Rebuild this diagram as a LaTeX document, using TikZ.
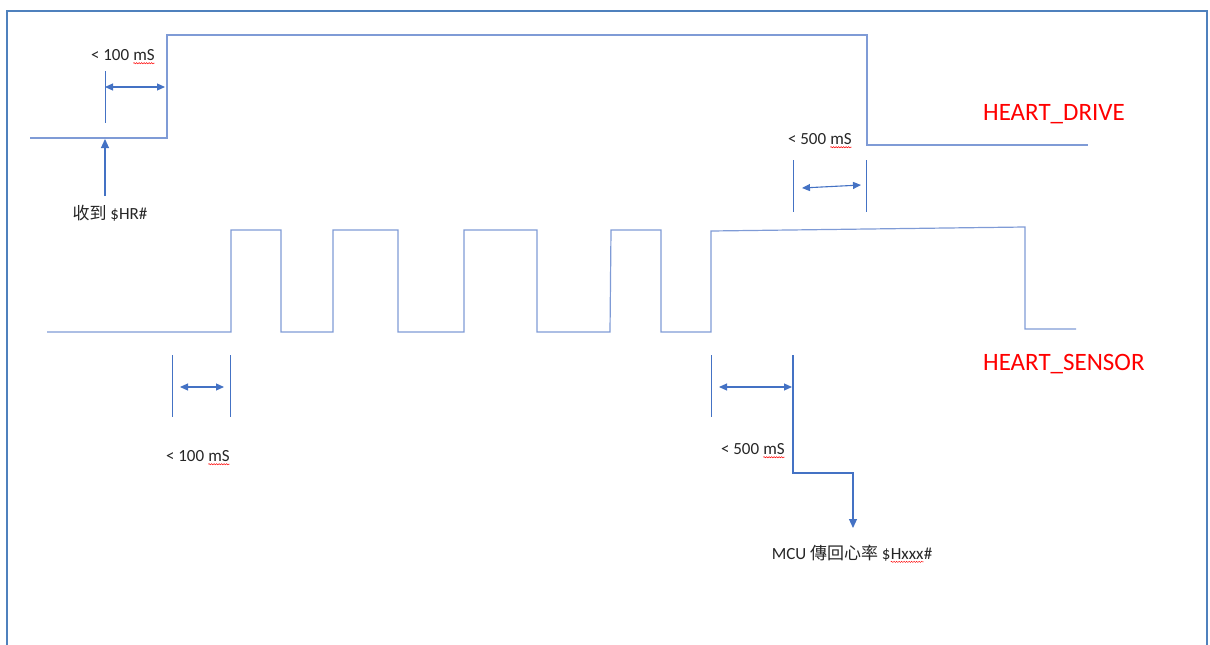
\documentclass[tikz,border=0pt]{standalone}
\usepackage{fontspec}
\setmainfont{Carlito}
\newfontfamily\cjk{Noto Sans CJK TC}
\usetikzlibrary{arrows.meta,decorations.pathmorphing}
\definecolor{framec}{HTML}{4F81BD}
\definecolor{sigc}{HTML}{7F9BD6}
\definecolor{arrc}{HTML}{4472C4}
\newcommand\wavymark[1]{\tikz[baseline=(w.base)]{\node[inner sep=0pt,outer sep=0pt](w){#1};\draw[red,line width=0.5pt,decorate,decoration={snake,amplitude=0.6pt,segment length=2.5pt}]([yshift=-2.2pt]w.base west)--([yshift=-2.2pt]w.base east);}}
\tikzset{
  frameline/.style={framec,line width=2.4pt},
  sigline/.style={sigc,line width=1.2pt},
  tickline/.style={arrc,line width=1pt},
  dimarrow/.style={arrc,line width=1.1pt,{Triangle[length=8pt,width=7pt]}-{Triangle[length=8pt,width=7pt]}},
  onearrow/.style={arrc,line width=1.1pt,-{Triangle[length=9pt,width=8pt]}},
  lbl/.style={inner sep=0pt,text=black!85,font=\fontsize{17}{20}\selectfont},
  redlbl/.style={inner sep=0pt,text=red,font=\fontsize{25}{30}\selectfont}
}
\begin{document}
\begin{tikzpicture}[x=1pt,y=-1pt]
\useasboundingbox (0,0) rectangle (1210,645);
% frame
\draw[frameline] (7,650) -- (7,11) -- (1207,11) -- (1207,650);
% HEART_DRIVE waveform
\draw[sigline] (30,138) -- (167,138) -- (167,35) -- (867,35) -- (867,145) -- (1088,145);
% HEART_SENSOR waveform
\draw[sigline] (47,332) -- (231,332) -- (231,230) -- (281,230) -- (281,332)
  -- (333,332) -- (333,230) -- (398,230) -- (398,332) -- (464,332) -- (464,230)
  -- (537,230) -- (537,332) -- (610,332) -- (611,230) -- (661,230) -- (661,332)
  -- (711,332) -- (711,231) -- (1025,227) -- (1025,329) -- (1076,329);
% labels
\node[redlbl,anchor=west] (drive) at (983,114) {HEART\_DRIVE};
\node[redlbl,anchor=west] (sensor) at (983,364) {HEART\_SENSOR};
\node[lbl] (t100a) at (123,57) {< 100 \wavymark{mS}};
\node[lbl] (t500a) at (820,141) {< 500 \wavymark{mS}};
\node[lbl] (t100b) at (198,458) {< 100 \wavymark{mS}};
\node[lbl] (t500b) at (753,451) {< 500 \wavymark{mS}};
\node[lbl] (recv) at (110,213) {{\cjk 收到} \$HR\#};
\node[lbl] (mcu) at (852,554) {MCU {\cjk 傳回心率} \$\wavymark{Hxxx}\#};
% top-left dimension
\coordinate (tla) at (105,87);
\coordinate (tlb) at (165,87);
\draw[tickline] (105,71) -- (105,123);
\draw[dimarrow] (tla) -- (tlb);
% receive arrow
\coordinate (recvtop) at (105,196);
\coordinate (recvtip) at (105,139);
\draw[onearrow] (recvtop) -- (recvtip);
% top-right dimension
\draw[tickline] (793,160) -- (793,212);
\draw[tickline] (866,160) -- (866,212);
\coordinate (tra) at (802,188);
\coordinate (trb) at (861,185);
\draw[dimarrow] (tra) -- (trb);
% bottom-left dimension
\draw[tickline] (172,355) -- (172,417);
\draw[tickline] (230,355) -- (230,417);
\coordinate (bla) at (180,387);
\coordinate (blb) at (224,387);
\draw[dimarrow] (bla) -- (blb);
% bottom-right dimension
\draw[tickline] (711,355) -- (711,417);
\coordinate (bra) at (719,387);
\coordinate (brb) at (792,387);
\draw[dimarrow] (bra) -- (brb);
\coordinate (mcustart) at (793,355);
\coordinate (mcutip) at (853,528);
\draw[onearrow] (mcustart) |- (853,473) -- (mcutip);
\end{tikzpicture}
\end{document}
